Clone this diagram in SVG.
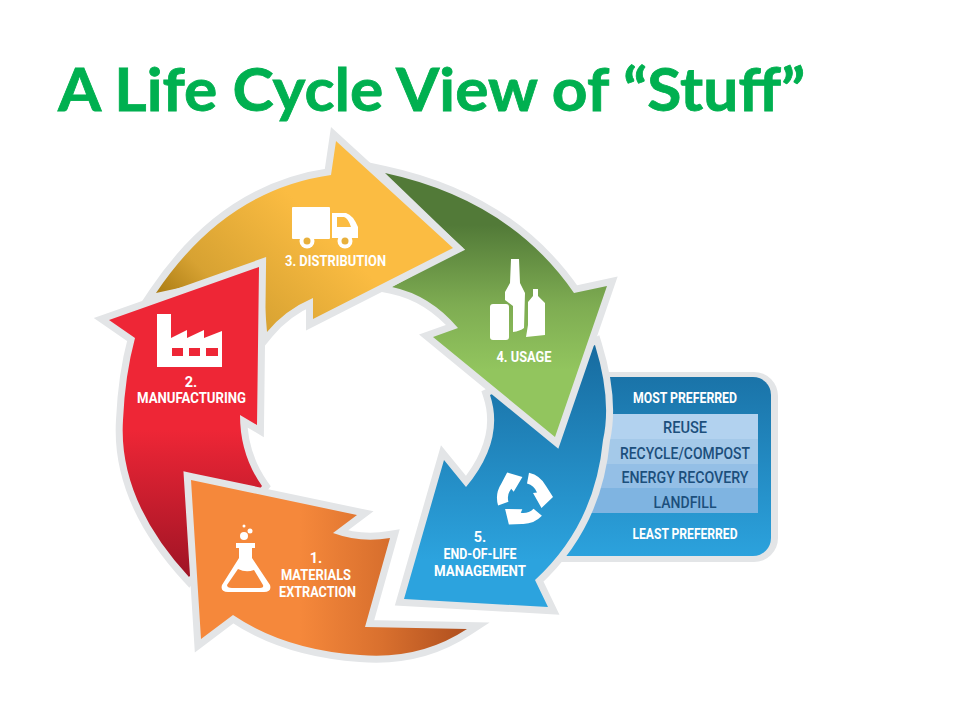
<svg xmlns="http://www.w3.org/2000/svg" width="960" height="720" viewBox="0 0 960 720">
<style>
.arrow{stroke:#e3e5e7;stroke-width:14;paint-order:stroke;stroke-linejoin:miter;stroke-miterlimit:8}
.t{font-family:"Roboto","Liberation Sans",sans-serif;font-weight:700;fill:#fff;font-size:14.500px;text-anchor:middle}
.r{font-family:"Roboto","Liberation Sans",sans-serif;font-weight:500;fill:#1c4f7c;font-size:16px;text-anchor:middle}
.i{fill:#fff}
</style>
<defs>
<linearGradient id="gy" gradientUnits="userSpaceOnUse" x1="175" y1="330" x2="300" y2="205"><stop offset="0" stop-color="#9f720c"/><stop offset="0.35" stop-color="#d7a232"/><stop offset="1" stop-color="#fbbc42"/></linearGradient>
<linearGradient id="gg" gradientUnits="userSpaceOnUse" x1="0" y1="225" x2="0" y2="370"><stop offset="0" stop-color="#527a38"/><stop offset="0.55" stop-color="#7eac52"/><stop offset="1" stop-color="#92c55e"/></linearGradient>
<linearGradient id="gb" gradientUnits="userSpaceOnUse" x1="0" y1="345" x2="0" y2="560"><stop offset="0" stop-color="#176b9f"/><stop offset="1" stop-color="#2ca3de"/></linearGradient>
<linearGradient id="gr" gradientUnits="userSpaceOnUse" x1="0" y1="430" x2="0" y2="575"><stop offset="0" stop-color="#ee2636"/><stop offset="1" stop-color="#a01425"/></linearGradient>
<linearGradient id="go" gradientUnits="userSpaceOnUse" x1="300" y1="0" x2="465" y2="0"><stop offset="0" stop-color="#f5883b"/><stop offset="0.5" stop-color="#d9702e"/><stop offset="1" stop-color="#b0501f"/></linearGradient>
<path id="rec" d="M529,472.700A26,26 0 0 1 546,486L553,497L541.500,508L533,493L537,492.500A15,15 0 0 0 527,483.500Z" fill="#fff"/>
</defs>
<rect width="960" height="720" fill="#fff"/>
<text id="title" x="58" y="111" font-family="Lato,'Open Sans',sans-serif" font-weight="700" font-size="60" fill="#00b050" stroke="#00b050" stroke-width="0.800" textLength="747" lengthAdjust="spacingAndGlyphs">A Life Cycle View of “Stuff”</text>
<g id="connectors"></g>
<g id="panel">
<rect x="500" y="372" width="278" height="190" rx="24" fill="#e3e5e7"/>
<rect x="500" y="377" width="271" height="179" rx="18" fill="url(#gb)"/>
<rect x="560" y="414" width="198" height="25" fill="#b2d2ef"/>
<rect x="560" y="439" width="198" height="25" fill="#a4c9e9"/>
<rect x="560" y="464" width="198" height="24" fill="#94bfe6"/>
<rect x="560" y="488" width="198" height="25" fill="#7fb4e1"/>
<text class="t" x="685" y="403" textLength="104" lengthAdjust="spacingAndGlyphs">MOST PREFERRED</text>
<text class="r" x="685" y="433" textLength="44" lengthAdjust="spacingAndGlyphs">REUSE</text>
<text class="r" x="685" y="459" textLength="130" lengthAdjust="spacingAndGlyphs">RECYCLE/COMPOST</text>
<text class="r" x="685" y="483" textLength="127" lengthAdjust="spacingAndGlyphs">ENERGY RECOVERY</text>
<text class="r" x="685" y="508" textLength="63" lengthAdjust="spacingAndGlyphs">LANDFILL</text>
<text class="t" x="685" y="539" textLength="105" lengthAdjust="spacingAndGlyphs">LEAST PREFERRED</text>
</g>
<g id="node5">
<path class="arrow" fill="url(#gb)" d="M595,345Q612,400 603,440Q595,525 535,580L548,607L404,599L444,460L466,487Q505,440 490,395Z"/>
<use href="#rec"/>
<use href="#rec" transform="rotate(120 523 498)"/>
<use href="#rec" transform="rotate(240 523 498)"/>
<text class="t" x="480" y="542">5.</text>
<text class="t" x="480" y="559" textLength="73" lengthAdjust="spacingAndGlyphs">END-OF-LIFE</text>
<text class="t" x="480" y="576" textLength="92" lengthAdjust="spacingAndGlyphs">MANAGEMENT</text>
</g>
<g id="node4">
<path class="arrow" fill="url(#gg)" d="M385,173Q510,200 574,293L607,286L555,437L433,337L458,328Q430,295 392,287L463,248Z"/>
<path class="i" d="M511,259H519L520,283L525,293L524,328Q520,331 513,332L513,306L509,303L505,300V292L510,283Z"/>
<rect class="i" x="490" y="304" width="19" height="36" rx="3"/>
<path class="i" d="M533,289H538V296L545,303V335L526,337L528,325V302L533,296Z"/>
<text class="t" x="524" y="362" textLength="55" lengthAdjust="spacingAndGlyphs">4. USAGE</text>
</g>
<g id="node3">
<path class="arrow" fill="url(#gy)" d="M156,293Q225,190 331,175L336,141L453,248L313,319L313,298Q285,310 267,332L262,270Z"/>
<rect class="i" x="292" y="207" width="38" height="32" rx="1"/>
<path class="i" fill-rule="evenodd" d="M332,213H346Q353,215 358,227V238H332ZM337,217V227H351Q348,218 344,217Z"/>
<circle class="i" cx="307" cy="241" r="7.500"/><circle class="i" cx="345" cy="241" r="7.500"/>
<circle cx="307" cy="241" r="3.500" fill="#e8b03c"/><circle cx="345" cy="241" r="3.500" fill="#e8b03c"/>
<text class="t" x="335.500" y="266" textLength="101" lengthAdjust="spacingAndGlyphs">3. DISTRIBUTION</text>
</g>
<g id="node2">
<path class="arrow" fill="url(#gr)" d="M109,320L259,267L257,425L240,415Q240,455 262,486L189,577Q118,500 123,420Q125,375 135,338Z"/>
<path class="i" d="M157,314H171V338L187,330V338L204,330V338L222,331V367H157Z"/>
<path d="M172,348H183V356H172ZM189,348H200V356H189ZM206,348H218V356H206Z" fill="#ee2636"/>
<text class="t" x="191" y="387">2.</text>
<text class="t" x="191.500" y="403" textLength="109" lengthAdjust="spacingAndGlyphs">MANUFACTURING</text>
</g>
<g id="node1">
<path class="arrow" fill="url(#go)" d="M191,480L357,515L333,533Q360,543 390,538L365,627L467,629Q420,660 360,655Q285,650 233,615L201,639Z"/>
<text class="t" x="316" y="563">1.</text>
<text class="t" x="316" y="580" textLength="70" lengthAdjust="spacingAndGlyphs">MATERIALS</text>
<text class="t" x="317.500" y="597" textLength="77" lengthAdjust="spacingAndGlyphs">EXTRACTION</text>
<path class="i" fill-rule="evenodd" d="M236,543H255V548H252V558L270,585Q272,592 264,592H228Q220,592 222,585L239,558V548H236ZM238,569L227,585Q227,588 232,588H260Q264,588 263,585L254,570Q246,573 238,569Z"/>
<circle class="i" cx="244" cy="536" r="4"/><circle class="i" cx="250" cy="531" r="2.500"/><circle class="i" cx="244" cy="526" r="1.500"/>
</g>
</svg>
